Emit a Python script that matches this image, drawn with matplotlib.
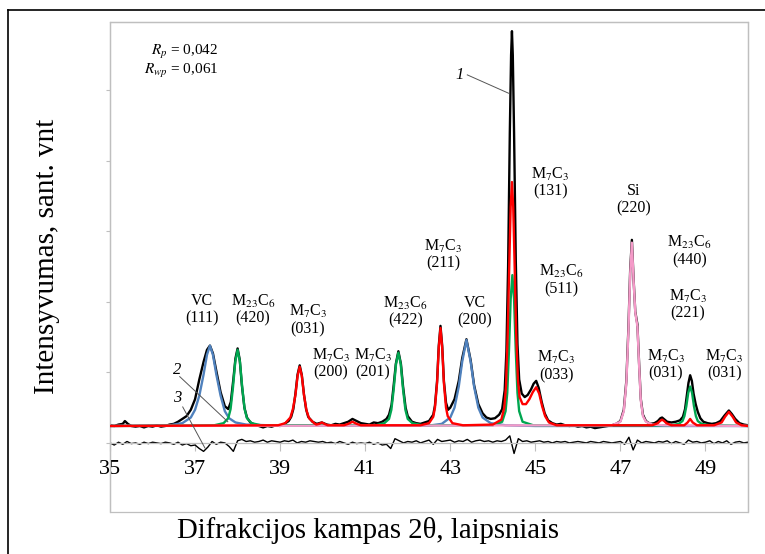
import numpy as np
import matplotlib
matplotlib.use('Agg')
import matplotlib.pyplot as plt
from matplotlib.lines import Line2D
from matplotlib.patches import Rectangle

plt.rcParams['font.family'] = 'serif'
plt.rcParams['font.serif'] = ['Liberation Serif', 'DejaVu Serif']
plt.rcParams['mathtext.fontset'] = 'stix'

# measured pattern (curve 1)
meas_x = [35.0, 35.1, 35.2, 35.3, 35.35, 35.42, 35.5, 35.6, 35.7, 35.8, 35.9, 36.0, 36.1, 36.2, 36.3,
          36.4, 36.5, 36.6, 36.7, 36.8, 36.9, 37.0, 37.1, 37.2, 37.28, 37.35, 37.42, 37.5, 37.6, 37.7,
          37.78, 37.84, 37.9, 37.95, 38.0, 38.05, 38.1, 38.16, 38.22, 38.3, 38.4, 38.5, 38.6, 38.7, 38.8,
          38.9, 39.0, 39.1, 39.2, 39.26, 39.31, 39.36, 39.41, 39.46, 39.51, 39.56, 39.61, 39.66, 39.76,
          39.86, 39.98, 40.1, 40.2, 40.3, 40.4, 40.5, 40.6, 40.7, 40.8, 40.9, 41.0, 41.1, 41.2, 41.3,
          41.4, 41.5, 41.56, 41.62, 41.67, 41.72, 41.78, 41.84, 41.89, 41.95, 42.0, 42.1, 42.2, 42.3,
          42.4, 42.5, 42.6, 42.64, 42.69, 42.73, 42.77, 42.81, 42.85, 42.9, 42.95, 43.0, 43.1, 43.2,
          43.28, 43.38, 43.48, 43.56, 43.66, 43.76, 43.85, 43.95, 44.05, 44.15, 44.22, 44.28, 44.32,
          44.36, 44.4, 44.43, 44.45, 44.47, 44.5, 44.54, 44.58, 44.62, 44.68, 44.75, 44.82, 44.9, 44.96,
          45.02, 45.08, 45.15, 45.22, 45.3, 45.4, 45.5, 45.6, 45.7, 45.8, 45.9, 46.0, 46.1, 46.2, 46.3,
          46.4, 46.5, 46.6, 46.7, 46.8, 46.9, 47.0, 47.08, 47.14, 47.19, 47.23, 47.27, 47.31, 47.35,
          47.4, 47.44, 47.48, 47.53, 47.6, 47.7, 47.8, 47.88, 47.94, 47.98, 48.04, 48.1, 48.2, 48.3,
          48.4, 48.47, 48.52, 48.56, 48.6, 48.64, 48.68, 48.72, 48.77, 48.82, 48.88, 48.95, 49.05,
          49.15, 49.25, 49.35, 49.45, 49.55, 49.62, 49.7, 49.8, 49.9, 50.0]
meas_y = [0.25, 0.24, 0.26, 0.27, 0.31, 0.27, 0.24, 0.23, 0.24, 0.22, 0.24, 0.23, 0.25, 0.23, 0.24,
          0.26, 0.27, 0.30, 0.34, 0.38, 0.47, 0.62, 0.90, 1.15, 1.32, 1.38, 1.27, 1.02, 0.72, 0.52,
          0.48, 0.58, 0.90, 1.20, 1.34, 1.18, 0.82, 0.50, 0.36, 0.29, 0.26, 0.24, 0.22, 0.24, 0.23,
          0.25, 0.24, 0.27, 0.31, 0.37, 0.48, 0.70, 0.97, 1.10, 0.96, 0.69, 0.48, 0.37, 0.30,
          0.27, 0.29, 0.26, 0.25, 0.27, 0.26, 0.28, 0.30, 0.34, 0.31, 0.28, 0.27, 0.26, 0.29, 0.28,
          0.30, 0.34, 0.40, 0.54, 0.82, 1.12, 1.30, 1.12, 0.80, 0.50, 0.38, 0.30, 0.28, 0.27,
          0.29, 0.31, 0.40, 0.53, 0.88, 1.38, 1.66, 1.38, 0.88, 0.57, 0.47, 0.50, 0.62, 0.88,
          1.20, 1.47, 1.17, 0.82, 0.55, 0.42, 0.36, 0.34, 0.35, 0.40, 0.48, 0.75, 1.30,
          2.50, 4.40, 5.50, 5.84, 5.50, 4.40, 2.60, 1.40, 0.90, 0.70, 0.65, 0.68, 0.76, 0.84,
          0.88, 0.78, 0.58, 0.42, 0.32, 0.28, 0.26, 0.27, 0.25, 0.24, 0.25, 0.23, 0.24, 0.22, 0.23,
          0.21, 0.22, 0.23, 0.24, 0.25, 0.27, 0.31, 0.47, 0.88, 1.65, 2.45, 2.88, 2.32, 1.86,
          1.68, 1.12, 0.62, 0.40, 0.31, 0.27, 0.28, 0.31, 0.35, 0.36, 0.33, 0.30, 0.29, 0.30,
          0.32, 0.37, 0.48, 0.66, 0.85, 0.96, 0.88, 0.70, 0.55, 0.44, 0.35, 0.30, 0.28,
          0.27, 0.28, 0.31, 0.39, 0.46, 0.41, 0.34, 0.28, 0.26, 0.25]

# VC component (blue)
vc_x = [35.0, 36.4, 36.7, 36.9, 37.0, 37.1, 37.2, 37.28, 37.35, 37.42, 37.5, 37.6, 37.7, 37.8, 37.95,
        38.2, 39.0, 42.5, 42.8, 43.0, 43.1, 43.2, 43.28, 43.38, 43.48, 43.56, 43.66, 43.76, 43.95,
        44.3, 45.0, 50.0]
vc_y = [0.24, 0.25, 0.28, 0.36, 0.47, 0.67, 0.97, 1.25, 1.38, 1.25, 0.97, 0.67, 0.45, 0.35, 0.29,
        0.26, 0.245, 0.245, 0.27, 0.36, 0.50, 0.80, 1.15, 1.46, 1.15, 0.80, 0.50, 0.36, 0.28,
        0.25, 0.24, 0.24]

# M23C6 component (green)
m23_x = [35.0, 37.45, 37.67, 37.78, 37.835, 37.89, 37.945, 38.0, 38.055, 38.11, 38.165, 38.22, 38.33,
         38.55, 41.25, 41.45, 41.56, 41.615, 41.67, 41.725, 41.78, 41.835, 41.89, 41.945, 42.0,
         42.11, 42.35, 44.0, 44.22, 44.3, 44.34, 44.38, 44.42, 44.46, 44.5, 44.54, 44.58, 44.62,
         44.7, 44.95, 48.2, 48.37, 48.46, 48.505, 48.55, 48.595, 48.64, 48.685, 48.73, 48.775,
         48.82, 48.91, 49.1, 50.0]
m23_y = [0.24, 0.25, 0.28, 0.35, 0.48, 0.78, 1.15, 1.32, 1.15, 0.78, 0.48, 0.35, 0.28,
         0.25, 0.25, 0.28, 0.34, 0.47, 0.76, 1.12, 1.28, 1.12, 0.76, 0.47, 0.34,
         0.28, 0.25, 0.25, 0.30, 0.45, 0.71, 1.31, 2.04, 2.38, 2.04, 1.31, 0.71, 0.45,
         0.30, 0.25, 0.25, 0.27, 0.31, 0.38, 0.52, 0.71, 0.80, 0.71, 0.52, 0.38,
         0.31, 0.27, 0.25, 0.24]

# Si reference (pink)
si_x = [35.0, 46.8, 47.0, 47.08, 47.14, 47.19, 47.23, 47.27, 47.31, 47.35, 47.4, 47.44, 47.48, 47.53,
        47.6, 47.75, 48.0, 50.0]
si_y = [0.24, 0.25, 0.30, 0.45, 0.85, 1.60, 2.40, 2.84, 2.30, 1.85, 1.65, 1.10, 0.60, 0.38,
        0.30, 0.26, 0.25, 0.24]

# M7C3 component (red)
m7_x = [35.0, 38.95, 39.12, 39.24, 39.30, 39.36, 39.41, 39.46, 39.51, 39.56, 39.62, 39.68, 39.80,
        39.85, 39.92, 39.98, 40.04, 40.12, 40.5, 40.6, 40.7, 40.8, 40.9, 42.3, 42.5, 42.6, 42.64,
        42.69, 42.73, 42.77, 42.81, 42.85, 42.9, 42.94, 43.05, 43.3, 44.0, 44.2, 44.27, 44.31,
        44.35, 44.39, 44.42, 44.45, 44.48, 44.51, 44.55, 44.59, 44.63, 44.7, 44.78, 44.86, 44.94,
        45.02, 45.09, 45.16, 45.23, 45.32, 45.5, 47.75, 47.88, 47.93, 47.98, 48.03, 48.08, 48.2,
        48.5, 48.58, 48.64, 48.7, 48.8, 49.2, 49.38, 49.46, 49.55, 49.64, 49.72, 49.85, 50.0]
m7_y = [0.24, 0.25, 0.28, 0.36, 0.48, 0.68, 0.95, 1.08, 0.95, 0.68, 0.46, 0.35, 0.28,
        0.26, 0.27, 0.29, 0.27, 0.25, 0.25, 0.27, 0.30, 0.27, 0.25, 0.25, 0.28, 0.37, 0.50,
        0.85, 1.35, 1.63, 1.35, 0.85, 0.50, 0.38, 0.28, 0.25, 0.26, 0.33, 0.50, 0.80,
        1.55, 2.60, 3.35, 3.70, 3.35, 2.60, 1.55, 0.90, 0.65, 0.55, 0.55, 0.62, 0.72,
        0.79, 0.70, 0.52, 0.38, 0.29, 0.25, 0.25, 0.28, 0.31, 0.33, 0.31, 0.28, 0.25,
        0.25, 0.29, 0.34, 0.29, 0.25, 0.25, 0.29, 0.37, 0.44, 0.37, 0.29, 0.25, 0.24]

# difference curve (curve 3), step 0.1 from 35 to 50
diff_y = [0.00, -0.03, 0.01, -0.02, 0.02, -0.01, 0.00, -0.02, 0.01, -0.01,
          0.01, 0.00, -0.01, 0.01, 0.00, -0.02, 0.01, -0.03, -0.01, -0.04,
          -0.03, -0.08, -0.12, -0.06, 0.02, -0.02, 0.01, 0.00, -0.05, -0.12,
          0.03, 0.05, 0.02, 0.03, 0.01, 0.02, 0.04, 0.01, 0.03, 0.02,
          0.01, 0.03, 0.02, 0.04, 0.00, 0.02, 0.01, 0.03, 0.02, 0.01,
          0.02, 0.00, 0.01, -0.01, 0.02, 0.00, -0.02, 0.01, -0.01, 0.00,
          -0.01, 0.01, -0.02, 0.00, -0.03, -0.02, -0.08, 0.06, 0.03, 0.00,
          0.02, 0.01, 0.03, 0.00, 0.02, 0.04, -0.02, 0.05, 0.02, 0.03,
          0.04, 0.01, 0.03, 0.02, 0.05, 0.01, 0.03, 0.04, 0.02, 0.03,
          0.01, 0.03, 0.02, 0.04, 0.10, -0.15, 0.06, 0.02, 0.03, 0.01,
          0.02, 0.03, 0.01, 0.02, 0.00, 0.02, 0.01, 0.02, 0.00, 0.01,
          0.02, 0.01, 0.00, 0.02, 0.01, 0.00, 0.02, 0.01, 0.00, 0.01,
          0.02, -0.02, 0.08, -0.10, 0.04, 0.00, 0.02, 0.01, 0.00, 0.02,
          0.01, 0.03, -0.01, 0.02, 0.00, -0.02, 0.04, 0.01, 0.02, 0.00,
          0.01, 0.03, -0.01, 0.02, 0.00, 0.03, -0.02, 0.01, 0.02, 0.00,
          0.01]
diff_x = np.linspace(35, 50, len(diff_y))

# reflection labels: text, x, y
peak_labels = ['VC\n(111)', 'M$_{23}$C$_6$\n(420)', 'M$_7$C$_3$\n(031)', 'M$_7$C$_3$\n(200)',
               'M$_7$C$_3$\n(201)', 'M$_{23}$C$_6$\n(422)', 'M$_7$C$_3$\n(211)', 'VC\n(200)',
               'M$_7$C$_3$\n(131)', 'M$_{23}$C$_6$\n(511)', 'M$_7$C$_3$\n(033)', 'Si\n(220)',
               'M$_{23}$C$_6$\n(440)', 'M$_7$C$_3$\n(221)', 'M$_7$C$_3$\n(031)', 'M$_7$C$_3$\n(031)']
label_x = [37.16, 38.36, 39.65, 40.19, 41.18, 41.95, 42.84, 43.57,
           45.35, 45.61, 45.49, 47.30, 48.62, 48.59, 48.07, 49.44]
label_y = [1.89, 1.89, 1.74, 1.12, 1.12, 1.86, 2.67, 1.86,
           3.69, 2.31, 1.09, 3.45, 2.72, 1.96, 1.11, 1.11]

fig = plt.figure(figsize=(7.65, 5.54), dpi=100)
ax = fig.add_axes([110/765, 1 - 512/554, 638/765, 490/554])

grey = '#BFBFBF'
ax.plot(meas_x, meas_y, color='black', lw=1.7, zorder=2)
ax.plot(vc_x, vc_y, color='#4F81BD', lw=1.7, zorder=3)
ax.plot(m23_x, m23_y, color='#00A650', lw=1.7, zorder=3)
ax.plot(si_x, si_y, color='#F49AC8', lw=1.7, zorder=3)
ax.plot(m7_x, m7_y, color='#FF0000', lw=1.7, zorder=4)
ax.plot(diff_x, diff_y, color='black', lw=1.0, zorder=2)

ax.set_xlim(35, 50)
ax.set_ylim(-0.98, 5.97)

for s in ['left', 'top', 'right']:
    ax.spines[s].set_color(grey)
    ax.spines[s].set_linewidth(0.9)
ax.spines['bottom'].set_position(('data', 0))
ax.spines['bottom'].set_color(grey)
ax.spines['bottom'].set_linewidth(0.9)
ax.add_patch(Rectangle((0, 0), 1, 1, transform=ax.transAxes, fill=False,
                       ec=grey, lw=0.9, zorder=0, clip_on=False))

ax.set_xticks(np.arange(35, 50, 2))
ax.set_yticks(np.arange(0, 6))
ax.set_yticklabels([])
ax.tick_params(axis='x', direction='out', length=6, color=grey, labelsize=16, pad=6)
ax.tick_params(axis='y', direction='out', length=3, color=grey)

for t, x, y in zip(peak_labels, label_x, label_y):
    ax.text(x, y, t, ha='center', va='center', fontsize=11.5, linespacing=1.05, zorder=5)

# curve numbers with leader lines
ax.text(43.22, 5.22, '1', ha='center', va='center', fontsize=12, style='italic')
ax.plot([43.40, 44.37], [5.22, 4.96], color='#555555', lw=0.7)
ax.text(36.57, 1.04, '2', ha='center', va='center', fontsize=12, style='italic')
ax.plot([36.64, 37.77], [0.94, 0.30], color='#555555', lw=0.7, zorder=6)
ax.text(36.57, 0.64, '3', ha='center', va='center', fontsize=12, style='italic')
ax.plot([36.71, 37.23], [0.51, -0.07], color='#555555', lw=0.7, zorder=6)

ax.text(0.170, 0.958, '$R_p$ = 0,042\n$R_{wp}$ = 0,061', transform=ax.transAxes,
        ha='right', va='top', fontsize=11, linespacing=1.1)

fig.text(368/765, 1 - 530/554, 'Difrakcijos kampas 2θ, laipsniais', ha='center', va='center',
         fontsize=20.7)
fig.text(47/765, 1 - 256/554, 'Intensyvumas, sant. vnt', ha='center', va='center',
         fontsize=21, rotation=90)

# outer frame
fig.add_artist(Line2D([8/765, 8/765], [0, 1 - 10/554], color='black', lw=1.2))
fig.add_artist(Line2D([8/765, 1], [1 - 10/554, 1 - 10/554], color='black', lw=1.2))

fig.savefig('out.png', dpi=100)
